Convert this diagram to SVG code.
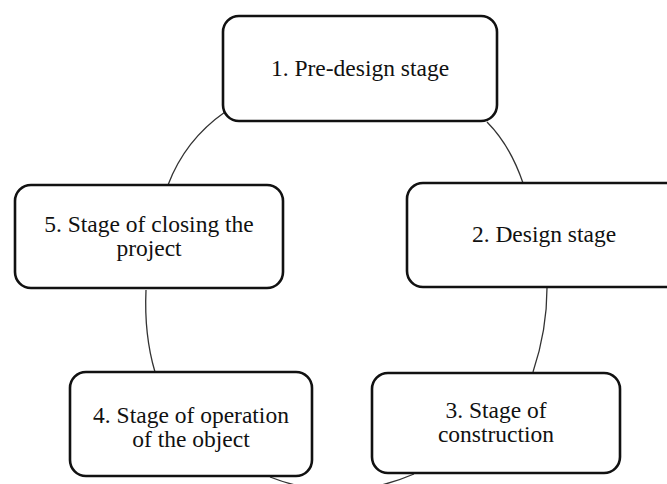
<svg xmlns="http://www.w3.org/2000/svg" width="667" height="484" viewBox="0 0 667 484">
<style>
.box{fill:#fff;stroke:#111;stroke-width:2.6}
.lbl{font-family:'Liberation Serif','DejaVu Serif',serif;font-size:23.5px;fill:#111;text-anchor:middle}
.con{fill:none;stroke:#333;stroke-width:1.3}
</style>
<rect width="667" height="484" fill="#fff"/>
<g id="connectors">
<path class="con" d="M225,112 Q185,140 168,185"/>
<path class="con" d="M487,122 Q510,145 523,183"/>
<path class="con" d="M146,290 Q144,335 155,372"/>
<path class="con" d="M547,288 Q547,330 533,372"/>
<path class="con" d="M270,477 Q342,505 414,474"/>
</g>
<g id="node1">
<rect class="box" x="223" y="16" width="274" height="105" rx="16"/>
<text class="lbl" x="360" y="76">1. Pre-design stage</text>
</g>
<g id="node2">
<rect class="box" x="407" y="183" width="275" height="104" rx="16"/>
<text class="lbl" x="544" y="242">2. Design stage</text>
</g>
<g id="node3">
<rect class="box" x="372" y="373" width="248" height="100" rx="16"/>
<text class="lbl" x="496" y="418">3. Stage of</text>
<text class="lbl" x="496" y="442">construction</text>
</g>
<g id="node4">
<rect class="box" x="70" y="372" width="242" height="104" rx="16"/>
<text class="lbl" x="191" y="423">4. Stage of operation</text>
<text class="lbl" x="191" y="447">of the object</text>
</g>
<g id="node5">
<rect class="box" x="15" y="185" width="268" height="103" rx="16"/>
<text class="lbl" x="149" y="232">5. Stage of closing the</text>
<text class="lbl" x="149" y="256">project</text>
</g>
</svg>
